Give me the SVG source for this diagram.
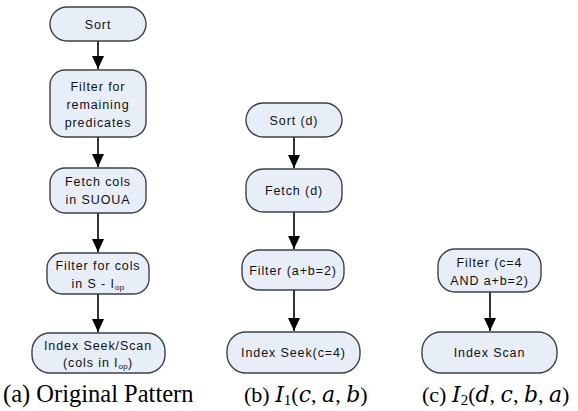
<svg xmlns="http://www.w3.org/2000/svg" width="578" height="411" viewBox="0 0 578 411">
<defs>
<marker id="ah" markerUnits="userSpaceOnUse" markerWidth="14" markerHeight="12" viewBox="0 0 14 12" refX="13" refY="6" orient="auto">
<path d="M0,0 L13,6 L0,12 Z" fill="#000"/>
</marker>
<style>
.n{fill:#e8eef8;stroke:#404040;stroke-width:1.4}
.t{font-family:"Liberation Sans",Arial,sans-serif;font-size:12.5px;letter-spacing:0.9px;fill:#111;text-anchor:middle}
.s{font-size:8px;letter-spacing:0.3px}
.e{stroke:#000;stroke-width:1.6;fill:none}
.c{font-family:"Liberation Serif","Times New Roman",serif;font-size:22px;fill:#000}
.m{font-family:"DejaVu Serif","Liberation Serif",serif;font-style:italic}
</style>
</defs>
<g id="connectors">
<line class="e" x1="98" y1="41" x2="98" y2="69" marker-end="url(#ah)"/>
<line class="e" x1="98" y1="137" x2="98" y2="167" marker-end="url(#ah)"/>
<line class="e" x1="98" y1="213" x2="98" y2="252" marker-end="url(#ah)"/>
<line class="e" x1="98" y1="294" x2="98" y2="332" marker-end="url(#ah)"/>
<line class="e" x1="294" y1="137" x2="294" y2="168" marker-end="url(#ah)"/>
<line class="e" x1="294" y1="212" x2="294" y2="249" marker-end="url(#ah)"/>
<line class="e" x1="294" y1="290" x2="294" y2="331" marker-end="url(#ah)"/>
<line class="e" x1="490" y1="292" x2="490" y2="331" marker-end="url(#ah)"/>
</g>
<g id="a_sort"><rect class="n" x="50" y="7" width="96" height="34" rx="17"/><text class="t" x="98" y="28.5">Sort</text></g>
<g id="a_filter_rem"><rect class="n" x="50" y="70" width="96" height="67" rx="15"/><text class="t" x="98" y="91">Filter for</text><text class="t" x="98" y="109">remaining</text><text class="t" x="98" y="127">predicates</text></g>
<g id="a_fetch"><rect class="n" x="50" y="168" width="96" height="45" rx="15"/><text class="t" x="98" y="186">Fetch cols</text><text class="t" x="98" y="204">in SUOUA</text></g>
<g id="a_filter_cols"><rect class="n" x="47" y="253" width="102" height="41" rx="15"/><text class="t" x="98" y="270">Filter for cols</text><text class="t" x="98" y="288">in S - I<tspan class="s" dy="2">op</tspan></text></g>
<g id="a_index"><rect class="n" x="32" y="333" width="133" height="40" rx="18"/><text class="t" x="98" y="350">Index Seek/Scan</text><text class="t" x="98" y="367">(cols in I<tspan class="s" dy="2">op</tspan><tspan dy="-2">)</tspan></text></g>
<g id="b_sort"><rect class="n" x="246" y="103" width="96" height="34" rx="17"/><text class="t" x="294" y="124.5">Sort (d)</text></g>
<g id="b_fetch"><rect class="n" x="246" y="169" width="96" height="43" rx="17"/><text class="t" x="294" y="195">Fetch (d)</text></g>
<g id="b_filter"><rect class="n" x="242" y="250" width="102" height="40" rx="17"/><text class="t" x="293" y="275">Filter (a+b=2)</text></g>
<g id="b_index"><rect class="n" x="227" y="332" width="133" height="41" rx="19"/><text class="t" x="293.5" y="357">Index Seek(c=4)</text></g>
<g id="c_filter"><rect class="n" x="438" y="249" width="103" height="43" rx="17"/><text class="t" x="489.5" y="267">Filter (c=4</text><text class="t" x="489.5" y="285">AND a+b=2)</text></g>
<g id="c_index"><rect class="n" x="422" y="332" width="135" height="41" rx="19"/><text class="t" x="489.5" y="357">Index Scan</text></g>
<text class="c" x="3" y="402" style="font-size:24.5px">(a) Original Pattern</text>
<text class="c" x="244" y="402">(b) <tspan class="m">I</tspan><tspan font-size="15" dy="3">1</tspan><tspan dy="-3">(</tspan><tspan class="m">c</tspan>, <tspan class="m">a</tspan>, <tspan class="m">b</tspan>)</text>
<text class="c" x="422" y="402">(c) <tspan class="m">I</tspan><tspan font-size="15" dy="3">2</tspan><tspan dy="-3">(</tspan><tspan class="m">d</tspan>, <tspan class="m">c</tspan>, <tspan class="m">b</tspan>, <tspan class="m">a</tspan>)</text>
</svg>
